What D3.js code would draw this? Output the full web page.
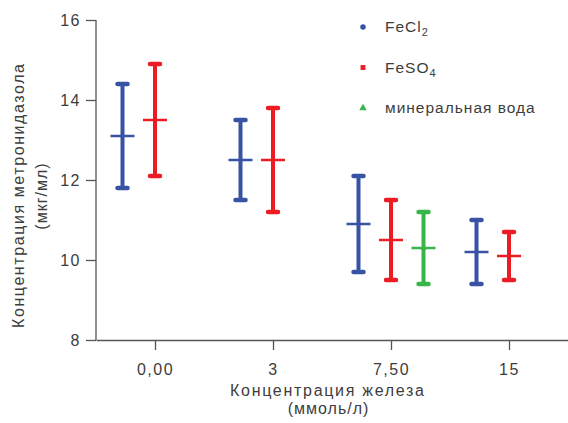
<!DOCTYPE html>
<html>
<head>
<meta charset="utf-8">
<script src="https://cdn.jsdelivr.net/npm/d3@7"></script>
<style>
  body { margin: 0; background: #fff; }
  text { font-family: "Liberation Sans", Arial, sans-serif; fill: #3d3d3d; }
</style>
</head>
<body>
<div id="chart"></div>
<script>
// Categories on the x axis (iron concentration, mmol/l)
const categories = ["0,00", "3", "7,50", "15"];

// Series names
const seriesNames = ["FeCl2", "FeSO4", "mineral"];

// Mean, low, high for each series (NaN = no data in that group)
const fecl2Mean = [13.1, 12.5, 10.9, 10.2];
const fecl2Low  = [11.8, 11.5, 9.7, 9.4];
const fecl2High = [14.4, 13.5, 12.1, 11.0];

const feso4Mean = [13.5, 12.5, 10.5, 10.1];
const feso4Low  = [12.1, 11.2, 9.5, 9.5];
const feso4High = [14.9, 13.8, 11.5, 10.7];

const mineralMean = [NaN, NaN, 10.3, NaN];
const mineralLow  = [NaN, NaN, 9.4, NaN];
const mineralHigh = [NaN, NaN, 11.2, NaN];

const yTicks = [8, 10, 12, 14, 16];

const colors = d3.scaleOrdinal()
  .domain(seriesNames)
  .range(["#3953a4", "#ed1c24", "#3ab54a"]);

// Build rows for drawing
const table = [
  {name: "FeCl2", mean: fecl2Mean, low: fecl2Low, high: fecl2High},
  {name: "FeSO4", mean: feso4Mean, low: feso4Low, high: feso4High},
  {name: "mineral", mean: mineralMean, low: mineralLow, high: mineralHigh}
];
const rows = [];
table.forEach(s => categories.forEach((c, i) => {
  if (!isNaN(s.mean[i])) rows.push({series: s.name, cat: c, mean: s.mean[i], low: s.low[i], high: s.high[i]});
}));

const width = 568, height = 423;
const margins = {top: 20, right: 0, bottom: 83, left: 96};

const svg = d3.select("#chart")
  .append("svg")
  .attr("width", width)
  .attr("height", height);

const x = d3.scalePoint()
  .domain(categories)
  .range([margins.left, width - margins.right])
  .padding(0.5);

// offset of each series around the category tick
const xOff = d3.scalePoint()
  .domain(seriesNames)
  .range([-32.5, 32.5]);

const y = d3.scaleLinear()
  .domain([8, 16])
  .range([height - margins.bottom, margins.top]);

// Axes
const yGroup = svg.append("g")
    .attr("transform", `translate(${margins.left},0)`)
  .call(d3.axisLeft(y).tickValues(yTicks).tickSize(10).tickFormat(d3.format("d")));

const xGroup = svg.append("g")
    .attr("transform", `translate(0,${height - margins.bottom})`)
  .call(d3.axisBottom(x).tickSize(10).tickSizeOuter(0));

[yGroup, xGroup].forEach(g => {
  g.selectAll("path, line").attr("stroke", "#555").attr("stroke-width", 1.3);
  g.selectAll("text")
    .style("font-size", "16px")
    .style("letter-spacing", "1.5px")
    .attr("fill", "#3d3d3d");
});
yGroup.select(".domain").attr("d", `M0,${y(8)}V${y(16)}`);
yGroup.selectAll(".tick text").attr("x", -15);
xGroup.selectAll(".tick text").attr("y", 35).attr("dy", null);

// Axis titles
const title = (sel, txt) => sel.append("text")
  .attr("text-anchor", "middle")
  .style("font-size", "16px")
  .text(txt);

title(svg, "Концентрация железа").attr("x", 327).attr("y", 395.5)
  .attr("textLength", 194).attr("lengthAdjust", "spacing");
title(svg, "(ммоль/л)").attr("x", 328.5).attr("y", 413.5)
  .style("letter-spacing", "1px");

const yTitle = svg.append("g").attr("transform", "translate(0,196) rotate(-90)");
title(yTitle, "Концентрация метронидазола").attr("y", 24)
  .attr("textLength", 264).attr("lengthAdjust", "spacing");
title(yTitle, "(мкг/мл)").attr("y", 46.5)
  .style("letter-spacing", "1px");

// Error bars
const bars = svg.append("g")
  .selectAll("g")
  .data(rows)
  .join("g")
    .attr("transform", d => `translate(${x(d.cat) + xOff(d.series)},0)`)
    .attr("stroke", d => colors(d.series))
    .attr("stroke-linecap", "round");

bars.append("line")
  .attr("y1", d => y(d.low)).attr("y2", d => y(d.high))
  .attr("stroke-width", 4);
bars.append("line")
  .attr("x1", -5).attr("x2", 5)
  .attr("y1", d => y(d.high)).attr("y2", d => y(d.high))
  .attr("stroke-width", 4.5);
bars.append("line")
  .attr("x1", -5).attr("x2", 5)
  .attr("y1", d => y(d.low)).attr("y2", d => y(d.low))
  .attr("stroke-width", 4.5);
bars.append("line")
  .attr("x1", -12).attr("x2", 12)
  .attr("y1", d => y(d.mean)).attr("y2", d => y(d.mean))
  .attr("stroke-width", 2.5)
  .attr("stroke-linecap", "butt");

// small mean markers
const symbols = d3.scaleOrdinal()
  .domain(seriesNames)
  .range([d3.symbolCircle, d3.symbolSquare, d3.symbolTriangle]);

bars.append("path")
  .attr("transform", d => `translate(0,${y(d.mean)})`)
  .attr("d", d => d3.symbol(symbols(d.series), 14)())
  .attr("fill", d => colors(d.series))
  .attr("stroke", "none");

// Legend
const legendLabels = [["FeCl", "2"], ["FeSO", "4"], ["минеральная вода", ""]];
const legend = svg.append("g")
  .selectAll("g")
  .data(seriesNames)
  .join("g")
    .attr("transform", (d, i) => `translate(363,${27 + i * 40.5})`);

legend.append("path")
  .attr("d", d => d3.symbol(symbols(d), 24)())
  .attr("fill", d => colors(d));

const lt = legend.append("text")
  .attr("x", 22).attr("y", 5)
  .style("font-size", "15.5px")
  .style("letter-spacing", "1px");
lt.append("tspan").text((d, i) => legendLabels[i][0]);
lt.append("tspan")
  .attr("dy", 4)
  .style("font-size", "11px")
  .text((d, i) => legendLabels[i][1]);
</script>
</body>
</html>
